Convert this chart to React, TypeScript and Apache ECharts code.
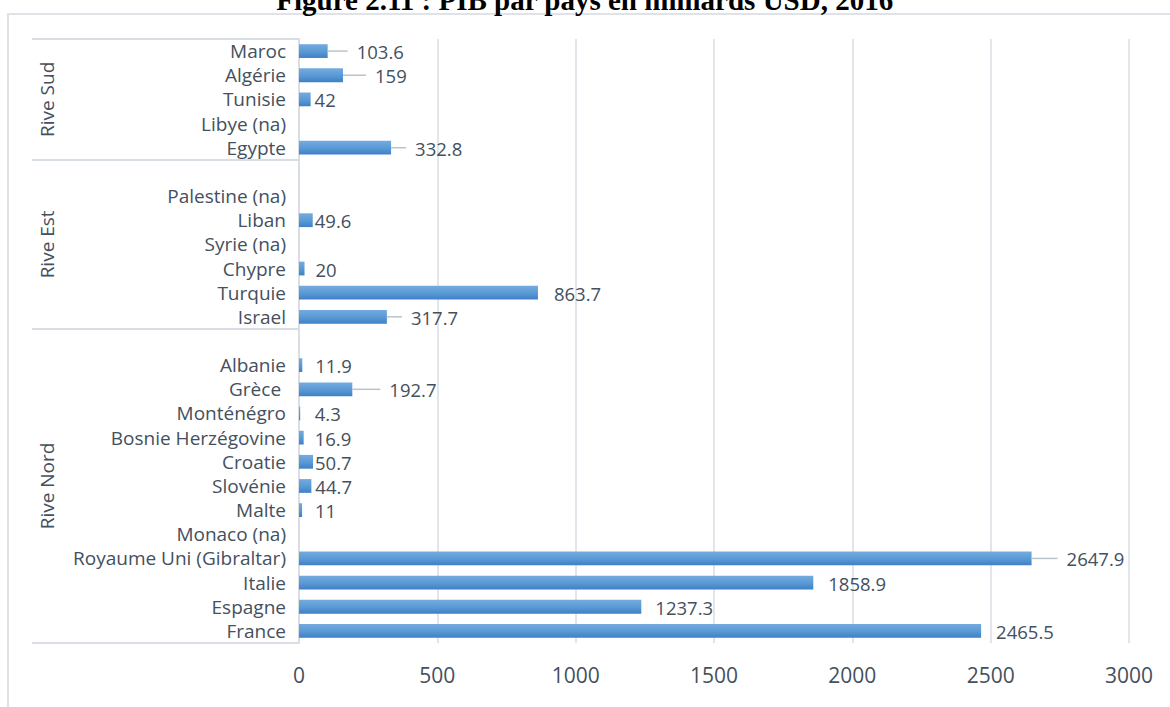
import React, { useEffect, useRef } from "react";
import * as echarts from "echarts";

// Categories from top to bottom ("" = empty spacer row of the group)
const countries = [
  "Maroc", "Algérie", "Tunisie", "Libye (na)", "Egypte",
  "", "Palestine (na)", "Liban", "Syrie (na)", "Chypre", "Turquie", "Israel",
  "", "Albanie", "Grèce ", "Monténégro", "Bosnie Herzégovine", "Croatie", "Slovénie",
  "Malte", "Monaco (na)", "Royaume Uni (Gibraltar)", "Italie", "Espagne", "France",
];
// PIB 2016, milliards USD (null = not available)
const gdp = [
  103.6, 159, 42, null, 332.8,
  null, null, 49.6, null, 20, 863.7, 317.7,
  null, 11.9, 192.7, 4.3, 16.9, 50.7, 44.7,
  11, null, 2647.9, 1858.9, 1237.3, 2465.5,
];
const groupNames = ["Rive Sud", "Rive Est", "Rive Nord"];
const groupSizes = [5, 7, 13];
const xTicks = [0, 500, 1000, 1500, 2000, 2500, 3000];

// label placement (gap in px from bar end) and whether a leader line is drawn
const labelGap = [
  29, 32, 4, 0, 24,
  0, 0, 2, 0, 11, 16, 24,
  0, 13, 37, 14.5, 11, 2, 4,
  13, 0, 35, 15, 14, 15,
];
const leader = [
  1, 1, 0, 0, 1,
  0, 0, 0, 0, 0, 0, 1,
  0, 0, 1, 0, 0, 0, 0,
  0, 0, 1, 0, 0, 0,
];

const TEXT = "#44505E";
const GRID = "#d9dee4";
const FONT = '"Open Sans", sans-serif';

export default function App() {
  const ref = useRef<HTMLDivElement>(null);
  useEffect(() => {
    if (!ref.current) return;
    const chart = echarts.init(ref.current, null, { renderer: "svg" });

    const boundaries: number[] = [];
    const centers: number[] = [];
    let start = 0;
    groupSizes.forEach((s) => {
      boundaries.push(start);
      centers.push(start + (s - 1) / 2);
      start += s;
    });

    const labelData = gdp
      .map((v, i) => (v == null ? null : [v, i, labelGap[i], leader[i]]))
      .filter((d) => d != null);

    chart.setOption({
      animation: false,
      backgroundColor: "#ffffff",
      graphic: [
        {
          type: "rect",
          z: -10,
          shape: { x: 8, y: 14, width: 1300, height: 900 },
          style: { fill: "none", stroke: "#dfe3e8", lineWidth: 2 },
        },
        {
          type: "text",
          left: "center",
          top: -15,
          style: {
            text: "Figure 2.11 : PIB par pays en milliards USD, 2016",
            fill: "#000",
            fontSize: 29,
            fontWeight: "bold",
            fontFamily: '"Liberation Serif", "Times New Roman", serif',
          },
        },
      ],
      grid: { left: 299, right: 41, top: 39, bottom: 64 },
      xAxis: {
        type: "value",
        min: 0,
        max: 3000,
        interval: 500,
        axisLine: { show: false },
        axisTick: { show: false },
        splitLine: { show: true, lineStyle: { color: GRID, width: 1.5 } },
        axisLabel: {
          color: TEXT,
          fontSize: 21,
          fontFamily: FONT,
          margin: 21,
          formatter: (v: number) => (xTicks.includes(v) ? String(v) : ""),
        },
      },
      yAxis: [
        {
          type: "category",
          inverse: true,
          data: countries,
          axisLine: { show: true, lineStyle: { color: GRID, width: 2 } },
          axisTick: {
            show: true,
            length: 267,
            interval: (index: number) => boundaries.includes(index),
            lineStyle: { color: GRID, width: 2 },
          },
          axisLabel: {
            interval: 0,
            color: TEXT,
            fontSize: 19,
            fontFamily: FONT,
            margin: 13,
          },
        },
        {
          type: "category",
          inverse: true,
          position: "left",
          data: countries,
          axisLine: { show: false },
          axisTick: { show: false },
          splitLine: { show: false },
          axisLabel: {
            interval: (index: number) => centers.includes(index),
            rotate: 90,
            color: TEXT,
            fontSize: 19,
            fontFamily: FONT,
            margin: 243,
            formatter: (_v: string, index: number) => {
              const g = centers.indexOf(index);
              return g >= 0 ? groupNames[g] : "";
            },
          },
        },
      ],
      series: [
        {
          type: "bar",
          yAxisIndex: 0,
          data: gdp,
          barWidth: "57%",
          itemStyle: {
            color: new echarts.graphic.LinearGradient(0, 0, 0, 1, [
              { offset: 0, color: "#74abe0" },
              { offset: 0.5, color: "#5b9bd5" },
              { offset: 1, color: "#3e80c8" },
            ]),
          },
        },
        {
          type: "custom",
          yAxisIndex: 0,
          data: labelData,
          encode: { x: 0, y: 1 },
          clip: false,
          z: 5,
          renderItem: (_params: any, api: any) => {
            const v = api.value(0);
            const idx = api.value(1);
            const gap = api.value(2);
            const lead = api.value(3);
            const p = api.coord([v, idx]);
            const children: any[] = [];
            if (lead) {
              children.push({
                type: "line",
                shape: { x1: p[0], y1: p[1], x2: p[0] + gap - 9, y2: p[1] },
                style: { stroke: "#b9c3cd", lineWidth: 1.5 },
              });
            }
            children.push({
              type: "text",
              x: p[0] + gap,
              y: p[1] + 0.5,
              style: {
                text: String(v),
                fill: TEXT,
                fontSize: 18.5,
                fontFamily: FONT,
                align: "left",
                verticalAlign: "middle",
              },
            });
            return { type: "group", children };
          },
        },
      ],
    });
    return () => chart.dispose();
  }, []);
  return (
    <div
      ref={ref}
      style={{ position: "absolute", left: 0, top: 0, width: 1170, height: 707, background: "#fff" }}
    />
  );
}
